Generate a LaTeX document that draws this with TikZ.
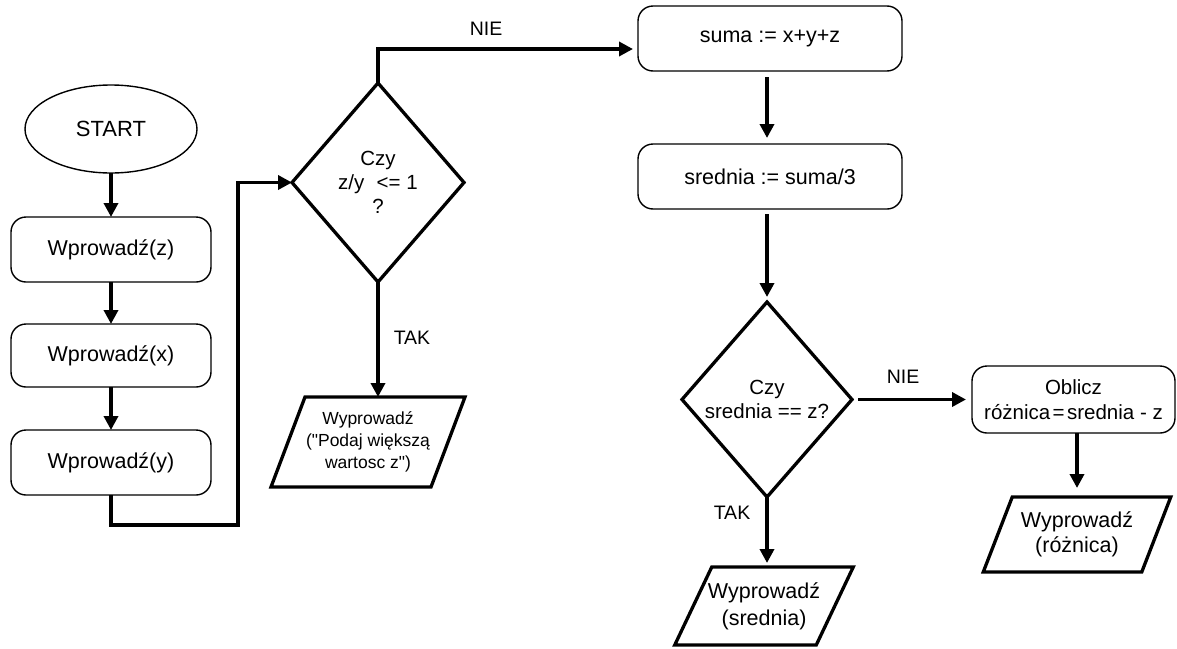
\documentclass[tikz,border=0pt]{standalone}
\usepackage{fontspec}
\setmainfont{Liberation Sans}[Ligatures=TeXOff]
\usetikzlibrary{arrows.meta,shapes.geometric}
\begin{document}
\begin{tikzpicture}[x=1pt,y=-1pt,
  box/.style={draw, line width=1.4pt, rounded corners=15pt, rectangle, inner sep=0pt, outer sep=0pt, align=center, font=\fontsize{21.5}{25}\selectfont},
  term/.style={draw, ellipse, line width=1.4pt, inner sep=0pt, outer sep=0pt, font=\fontsize{22}{25}\selectfont},
  decision/.style={draw, diamond, line width=3.3pt, inner sep=0pt, outer sep=0pt, align=center},
  iotext/.style={inner sep=0pt, outer sep=0pt, align=center},
  iobox/.style={line width=3.3pt, line join=miter},
  arr/.style={line width=3.5pt, -{Triangle[length=14pt,width=14pt]}},
  lbl/.style={font=\fontsize{19.5}{23}\selectfont, inner sep=0pt}
]
\useasboundingbox (0,0) rectangle (1177,648);

% left column
\node[term, minimum width=172pt, minimum height=88pt] (start) at (111,129) {START};
\node[box, minimum width=200pt, minimum height=65pt] (wz) at (111,249.5) {Wprowadź(z)};
\node[box, minimum width=200pt, minimum height=63pt] (wx) at (111,355.5) {Wprowadź(x)};
\node[box, minimum width=200pt, minimum height=65pt] (wy) at (111,462.5) {Wprowadź(y)};
\coordinate (c1) at (238,525);

% first decision
\node[decision, minimum width=172pt, minimum height=199pt, font=\fontsize{20.5}{24}\selectfont] (d1) at (378,182.5) {Czy\\z/y\hspace{0.6em}<= 1\\?};
\node[iotext, minimum width=160pt, minimum height=90pt, font=\fontsize{17.5}{22}\selectfont] (p1) at (368,442) {Wyprowadź\\("Podaj większą\\wartosc z")};
\draw[iobox] ([xshift=17pt]p1.north west) -- ([xshift=17pt]p1.north east) -- ([xshift=-17pt]p1.south east) -- ([xshift=-17pt]p1.south west) -- cycle;

% right part
\node[box, minimum width=264pt, minimum height=65pt] (suma) at (770,38.5) {suma := x+y+z};
\node[box, minimum width=264pt, minimum height=65pt] (sred) at (770,176.5) {srednia := suma/3};
\node[decision, minimum width=170pt, minimum height=195pt, font=\fontsize{20.5}{24}\selectfont] (d2) at (767,399.5) {Czy\\srednia == z?};
\node[box, minimum width=203pt, minimum height=67pt, font=\fontsize{20.5}{25}\selectfont] (obl) at (1073.5,399.5) {Oblicz\\różnica\hspace{0.12em}=\hspace{0.12em}srednia - z};

\node[iotext, minimum width=141.5pt, minimum height=78pt, font=\fontsize{21.5}{27}\selectfont] (p2) at (764,606) {Wyprowadź\\(srednia)};
\draw[iobox] ([xshift=18.5pt]p2.north west) -- ([xshift=18.5pt]p2.north east) -- ([xshift=-18.5pt]p2.south east) -- ([xshift=-18.5pt]p2.south west) -- cycle;

\node[iotext, minimum width=158.5pt, minimum height=75pt, font=\fontsize{21.5}{25}\selectfont] (p3) at (1077,534.5) {Wyprowadź\\(różnica)};
\draw[iobox] ([xshift=14.5pt]p3.north west) -- ([xshift=14.5pt]p3.north east) -- ([xshift=-14.5pt]p3.south east) -- ([xshift=-14.5pt]p3.south west) -- cycle;

% labels
\node[lbl] (nie1) at (486,29) {NIE};
\node[lbl] (tak1) at (412,338) {TAK};
\node[lbl] (nie2) at (903,377) {NIE};
\node[lbl] (tak2) at (732,513) {TAK};

% connectors
\draw[arr] (start) -- (wz);
\draw[arr] (wz) -- (wx);
\draw[arr] (wx) -- (wy);
\draw[arr] (wy.south) |- (c1) |- (d1.west);
\draw[arr, shorten >=5pt] (d1.north) |- ([yshift=-10.5pt]suma.west);
\draw[arr] (d1.south) -- (d1.south |- p1.north);
\draw[arr, shorten <=6pt, shorten >=6pt] (d2.north |- suma.south) -- (d2.north |- sred.north);
\draw[arr, shorten <=5pt, shorten >=5pt] (d2.north |- sred.south) -- (d2.north);
\draw[arr, shorten <=6pt, shorten >=6pt] (d2.east) -- (obl.west);
\draw[arr, shorten >=4pt] (d2.south) -- (d2.south |- p2.north);
\draw[arr, shorten >=9pt] (p3.north |- obl.south) -- (p3.north);
\end{tikzpicture}
\end{document}
